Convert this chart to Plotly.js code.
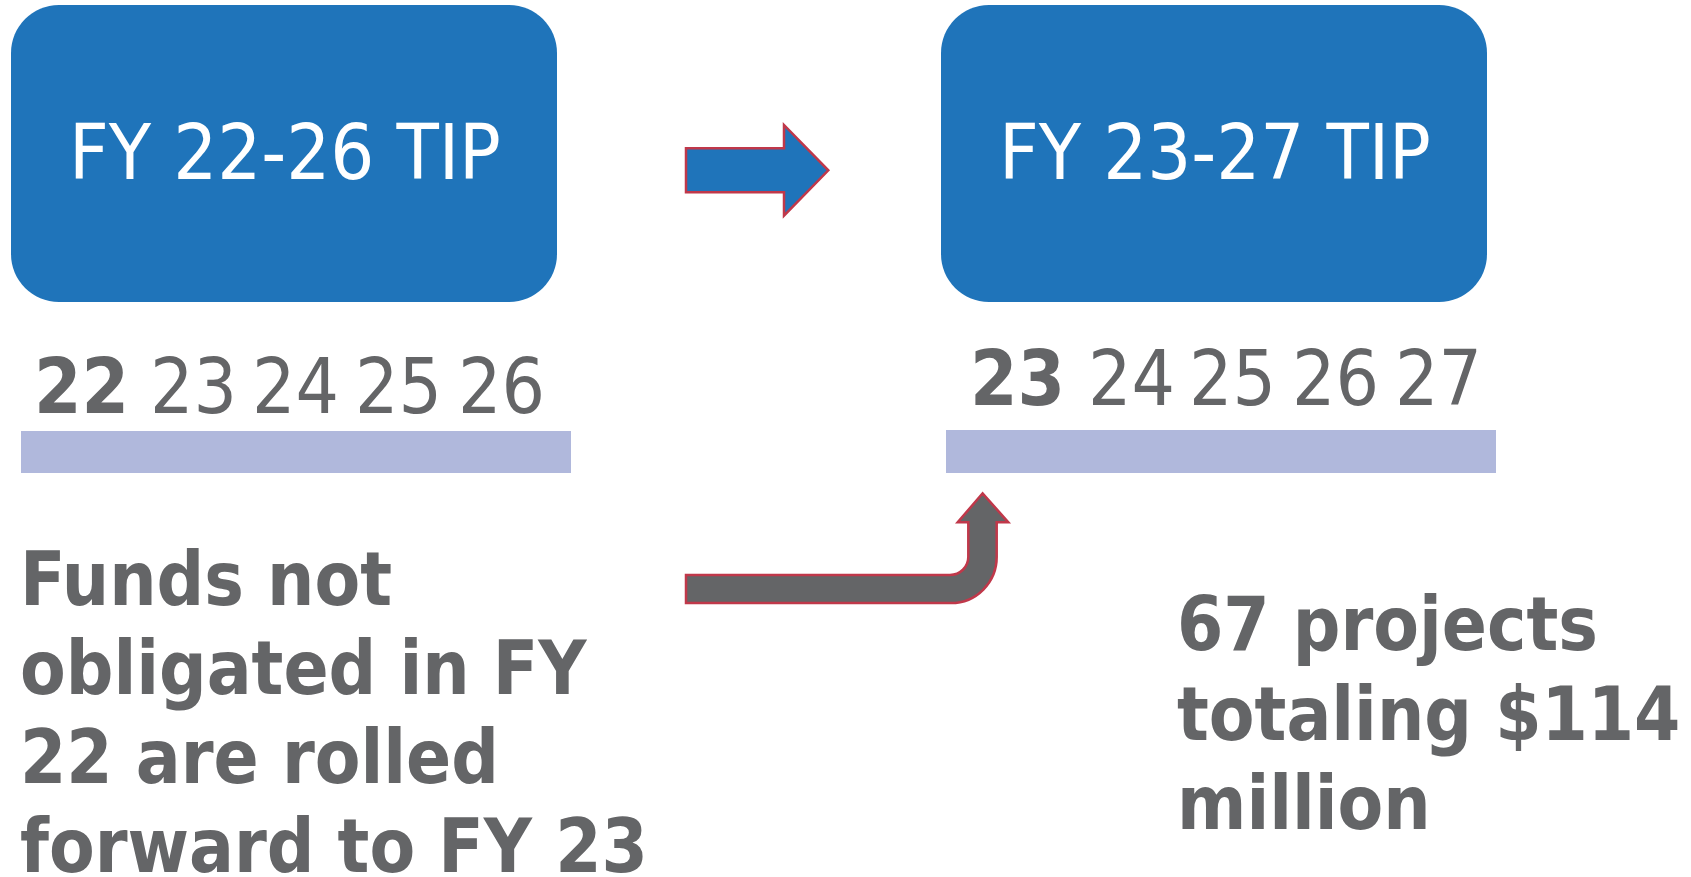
<!DOCTYPE html>
<html>
<head>
<meta charset="utf-8">
<script src="https://cdn.plot.ly/plotly-3.0.1.min.js"></script>
<style>
  html, body { margin: 0; padding: 0; background: #ffffff; }
  #chart { width: 1691px; height: 877px; }
</style>
</head>
<body>
<div id="chart"></div>
<script>
// ---- content (data) ----
const boxTitles = ['FY 22-26 TIP', 'FY 23-27 TIP'];
const leftYears = ['22', '23', '24', '25', '26'];
const rightYears = ['23', '24', '25', '26', '27'];
const leftCaption = ['Funds not', 'obligated in FY', '22 are rolled', 'forward to FY 23'];
const rightCaption = ['67 projects', 'totaling $114', 'million'];

// ---- styles ----
const BLUE = '#1f74ba';
const GRAY = '#646567';
const BAR = '#b0b8dc';
const RED = '#c0384a';
const FONT = '"DejaVu Sans Condensed", "DejaVu Sans", sans-serif';

// ---- layout geometry ----
const W = 1691, H = 877;
const boxes = [
  {x0: 11, x1: 557, y0: 5, y1: 302},
  {x0: 941, x1: 1487, y0: 5, y1: 302}
];
const bars = [
  {x0: 21, x1: 571, y0: 431, y1: 473},
  {x0: 946, x1: 1496, y0: 430, y1: 473}
];
const yearRows = [
  {base: 413, centers: [81.5, 193, 295, 398.5, 501]},
  {base: 405, centers: [1017.5, 1131.7, 1232, 1335.8, 1438]}
];

function roundRect(b, r) {
  const k = 0.5523 * r;
  return 'M' + (b.x0 + r) + ',' + b.y0 +
    ' L' + (b.x1 - r) + ',' + b.y0 +
    ' C' + (b.x1 - r + k) + ',' + b.y0 + ' ' + b.x1 + ',' + (b.y0 + r - k) + ' ' + b.x1 + ',' + (b.y0 + r) +
    ' L' + b.x1 + ',' + (b.y1 - r) +
    ' C' + b.x1 + ',' + (b.y1 - r + k) + ' ' + (b.x1 - r + k) + ',' + b.y1 + ' ' + (b.x1 - r) + ',' + b.y1 +
    ' L' + (b.x0 + r) + ',' + b.y1 +
    ' C' + (b.x0 + r - k) + ',' + b.y1 + ' ' + b.x0 + ',' + (b.y1 - r + k) + ' ' + b.x0 + ',' + (b.y1 - r) +
    ' L' + b.x0 + ',' + (b.y0 + r) +
    ' C' + b.x0 + ',' + (b.y0 + r - k) + ' ' + (b.x0 + r - k) + ',' + b.y0 + ' ' + (b.x0 + r) + ',' + b.y0 + ' Z';
}

const shapes = [];
boxes.forEach(b => shapes.push({
  type: 'path', xref: 'x', yref: 'y', path: roundRect(b, 48),
  fillcolor: BLUE, line: {width: 0}, layer: 'below'
}));
bars.forEach(b => shapes.push({
  type: 'rect', xref: 'x', yref: 'y', x0: b.x0, x1: b.x1, y0: b.y0, y1: b.y1,
  fillcolor: BAR, line: {width: 0}, layer: 'below'
}));
// straight block arrow
shapes.push({
  type: 'path', xref: 'x', yref: 'y',
  path: 'M686,148.3 L784,148.3 L784,125 L828.3,170.3 L784,215.6 L784,192.3 L686,192.3 Z',
  fillcolor: BLUE, line: {color: RED, width: 2.5}
});
// bent (roll-forward) arrow
shapes.push({
  type: 'path', xref: 'x', yref: 'y',
  path: 'M686,575 L950,575 C960,575 968.3,567 968.3,557 L968.3,522.3 L957.7,522.3 L982.6,493.3 ' +
        'L1008.3,522.3 L996.7,522.3 L996.7,557 C996.7,582.4 976.4,603 951,603 L686,603 Z',
  fillcolor: GRAY, line: {color: RED, width: 2.5}
});

const annotations = [];
function addText(text, x, baseline, size, color, bold, xanchor) {
  annotations.push({
    xref: 'x', yref: 'y', x: x, y: baseline - 0.346 * size,
    xanchor: xanchor, yanchor: 'middle', showarrow: false,
    text: bold ? '<b>' + text + '</b>' : text,
    font: {family: FONT, size: size, color: color}
  });
}

// box titles
boxTitles.forEach((t, i) => {
  const b = boxes[i];
  addText(t, (b.x0 + b.x1) / 2 + 1, 179, 77, '#ffffff', false, 'center');
});
// year rows: first year of each TIP is bold
[leftYears, rightYears].forEach((ys, r) => {
  ys.forEach((y, i) => addText(y, yearRows[r].centers[i], yearRows[r].base, 76, GRAY, i === 0, 'center'));
});
// captions
leftCaption.forEach((line, i) => addText(line, 18, 605 + i * 89, 74, GRAY, true, 'left'));
rightCaption.forEach((line, i) => addText(line, 1175, 650 + i * 89.5, 74, GRAY, true, 'left'));

const axis = {visible: false, showgrid: false, zeroline: false, fixedrange: true};
const layout = {
  width: W, height: H,
  margin: {l: 0, r: 0, t: 0, b: 0, pad: 0},
  paper_bgcolor: '#ffffff', plot_bgcolor: '#ffffff',
  xaxis: Object.assign({}, axis, {range: [0, W]}),
  yaxis: Object.assign({}, axis, {range: [H, 0]}),
  showlegend: false,
  shapes: shapes,
  annotations: annotations
};

Plotly.newPlot('chart', [{x: [], y: [], type: 'scatter', mode: 'markers', hoverinfo: 'skip'}], layout,
  {staticPlot: true, displayModeBar: false});
</script>
</body>
</html>
